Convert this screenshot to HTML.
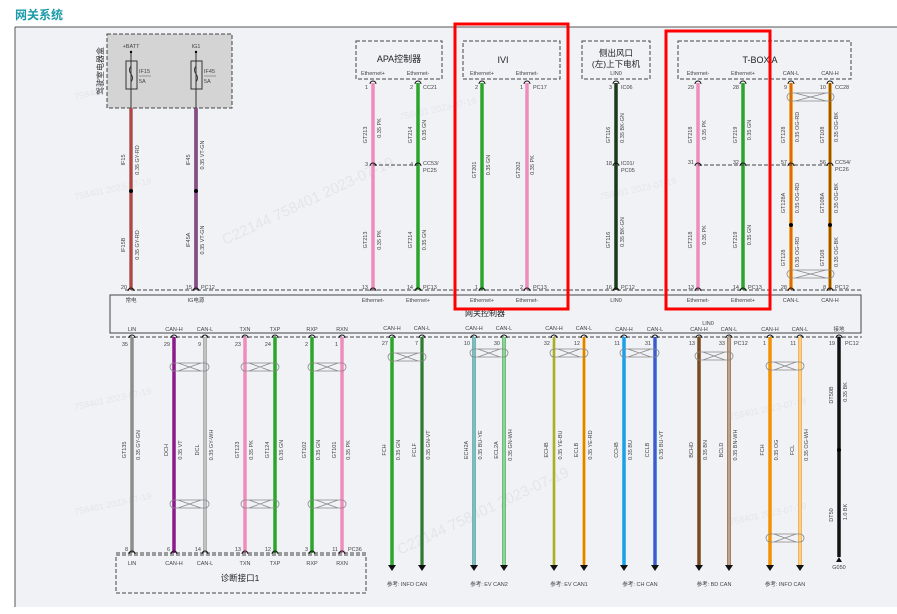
<!DOCTYPE html>
<html><head><meta charset="utf-8"><style>
html,body{margin:0;padding:0;background:#fff;}
svg{display:block;font-family:"Liberation Sans","Noto Sans CJK SC",sans-serif;}
.t{font-size:6px;fill:#333;}
.s{font-size:5.5px;fill:#444;}
.r{font-size:5.5px;fill:#444;text-anchor:middle;}
</style></head><body>
<svg width="897" height="614" viewBox="0 0 897 614" xmlns="http://www.w3.org/2000/svg">
<rect x="0" y="0" width="897" height="614" fill="#fff"/>
<rect x="15" y="27" width="882" height="580" fill="#f1f2f6"/>
<line x1="15" y1="27" x2="897" y2="27" stroke="#555" stroke-width="1"/>
<line x1="15" y1="27" x2="15" y2="607" stroke="#555" stroke-width="1"/>
<text x="15" y="19" font-size="12" font-weight="bold" fill="#1a9aa8">网关系统</text>

<!-- watermarks -->
<g fill="#e3e5ea" font-size="9">
<text transform="translate(75,100) rotate(-12)">758401 2023-07-19</text>
<text transform="translate(75,200) rotate(-12)">758401 2023-07-19</text>
<text transform="translate(225,245) rotate(-25)" font-size="15">C22144 758401 2023-07-19</text>
<text transform="translate(400,120) rotate(-12)">758401 2023-07-19</text>
<text transform="translate(600,200) rotate(-12)">758401 2023-07-19</text>
<text transform="translate(75,410) rotate(-12)">758401 2023-07-19</text>
<text transform="translate(75,515) rotate(-12)">758401 2023-07-19</text>
<text transform="translate(400,555) rotate(-25)" font-size="15">C22144 758401 2023-07-19</text>
<text transform="translate(730,420) rotate(-12)">758401 2023-07-19</text>
<text transform="translate(730,525) rotate(-12)">758401 2023-07-19</text>
</g>

<!-- fuse box -->
<rect x="107" y="34" width="125" height="74" fill="#d4d4d4" stroke="#444" stroke-dasharray="4,2"/>
<text transform="translate(103,71) rotate(-90)" font-size="8" fill="#333" text-anchor="middle">驾驶室电器盒</text>
<text x="131" y="48" class="s" text-anchor="middle">+BATT</text>
<text x="196" y="48" class="s" text-anchor="middle">IG1</text>
<line x1="131" y1="52" x2="131" y2="108" stroke="#333"/>
<line x1="196" y1="52" x2="196" y2="108" stroke="#333"/>
<circle cx="131" cy="52" r="1.2"/><circle cx="196" cy="52" r="1.2"/>
<rect x="126" y="61" width="11" height="28" fill="none" stroke="#333"/>
<rect x="191" y="61" width="11" height="28" fill="none" stroke="#333"/>
<path d="M131 66 q-3 4 0 8 q3 4 0 8" fill="none" stroke="#333"/>
<path d="M196 66 q-3 4 0 8 q3 4 0 8" fill="none" stroke="#333"/>
<text x="139" y="73" class="s">IF15</text><text x="139" y="83" class="s">5A</text>
<line x1="139" y1="76" x2="151" y2="76" stroke="#555" stroke-width=".5"/>
<text x="204" y="73" class="s">IF45</text><text x="204" y="83" class="s">5A</text>
<line x1="204" y1="76" x2="216" y2="76" stroke="#555" stroke-width=".5"/>

<!-- upper wires -->
<g stroke-width="3.5">
<line x1="131" y1="108" x2="131" y2="290" stroke="#a85a5a"/>
<line x1="196" y1="108" x2="196" y2="290" stroke="#8b1f8f"/>
<line x1="373" y1="83" x2="373" y2="290" stroke="#f08cbc"/>
<line x1="418" y1="83" x2="418" y2="290" stroke="#2ba52b"/>
<line x1="482" y1="83" x2="482" y2="290" stroke="#2ba52b"/>
<line x1="527" y1="83" x2="527" y2="290" stroke="#f08cbc"/>
<line x1="616" y1="83" x2="616" y2="290" stroke="#1b3a1b"/>
<line x1="698" y1="83" x2="698" y2="290" stroke="#f08cbc"/>
<line x1="743" y1="83" x2="743" y2="290" stroke="#2ba52b"/>
<line x1="791" y1="83" x2="791" y2="290" stroke="#f39200"/>
<line x1="830" y1="83" x2="830" y2="290" stroke="#f39200"/>
</g>
<g stroke-width="1">
<line x1="131" y1="108" x2="131" y2="290" stroke="#c03030"/>
<line x1="196" y1="108" x2="196" y2="290" stroke="#5a9a40"/>
<line x1="791" y1="83" x2="791" y2="290" stroke="#d04010"/>
<line x1="830" y1="83" x2="830" y2="290" stroke="#222"/>
</g>
<circle cx="131" cy="191" r="2"/><circle cx="196" cy="191" r="2"/>
<circle cx="791" cy="225" r="2"/><circle cx="830" cy="225" r="2"/>
<g fill="none" stroke="#888" stroke-width=".8">
<path d="M791 93 h39 a4 4 0 0 1 0 8 h-39 a4 4 0 0 1 0 -8 M795 93 L826 101 M795 101 L826 93"/>
<path d="M791 270 h39 a4 4 0 0 1 0 8 h-39 a4 4 0 0 1 0 -8 M795 270 L826 278 M795 278 L826 270"/>
</g>

<!-- upper connector boxes -->
<g fill="none" stroke="#444" stroke-dasharray="4,2">
<rect x="356" y="41" width="86" height="38"/>
<rect x="463" y="41" width="97" height="38"/>
<rect x="582" y="41" width="68" height="38"/>
<rect x="678" y="41" width="173" height="38"/>
<line x1="373" y1="165" x2="418" y2="165"/>
<line x1="698" y1="165" x2="830" y2="165"/>
<line x1="125" y1="290" x2="862" y2="290"/>
</g>
<text x="399" y="62" font-size="9" fill="#222" text-anchor="middle">APA控制器</text>
<text x="503" y="63" font-size="9" fill="#222" text-anchor="middle">IVI</text>
<text x="616" y="56" font-size="8.5" fill="#222" text-anchor="middle">侧出风口</text>
<text x="616" y="67" font-size="8.5" fill="#222" text-anchor="middle">(左)上下电机</text>
<text x="760" y="63" font-size="9" fill="#222" text-anchor="middle">T-BOX A</text>
<g class="r">
<text x="373" y="75">Ethernet+</text><text x="418" y="75">Ethernet-</text>
<text x="482" y="75">Ethernet+</text><text x="527" y="75">Ethernet-</text>
<text x="616" y="75">LIN0</text>
<text x="698" y="75">Ethernet-</text><text x="743" y="75">Ethernet+</text>
<text x="791" y="75">CAN-L</text><text x="830" y="75">CAN-H</text>
</g>
<g class="s">
<text x="368" y="89" text-anchor="end">1</text><text x="413" y="89" text-anchor="end">2</text><text x="423" y="89">CC21</text>
<text x="368" y="166" text-anchor="end">3</text><text x="413" y="166" text-anchor="end">4</text><text x="423" y="165">CC53/</text><text x="423" y="172">PC25</text>
<text x="368" y="289" text-anchor="end">13</text><text x="413" y="289" text-anchor="end">14</text><text x="423" y="289">PC13</text>
<text x="478" y="89" text-anchor="end">2</text><text x="523" y="89" text-anchor="end">1</text><text x="533" y="89">PC17</text>
<text x="478" y="289" text-anchor="end">1</text><text x="523" y="289" text-anchor="end">2</text><text x="533" y="289">PC13</text>
<text x="612" y="89" text-anchor="end">3</text><text x="621" y="89">IC06</text>
<text x="612" y="165" text-anchor="end">18</text><text x="621" y="165">IC01/</text><text x="621" y="172">PC05</text>
<text x="612" y="289" text-anchor="end">16</text><text x="621" y="289">PC12</text>
<text x="694" y="89" text-anchor="end">29</text><text x="739" y="89" text-anchor="end">28</text>
<text x="787" y="89" text-anchor="end">9</text><text x="826" y="89" text-anchor="end">10</text><text x="835" y="89">CC28</text>
<text x="694" y="164" text-anchor="end">31</text><text x="739" y="164" text-anchor="end">32</text>
<text x="787" y="164" text-anchor="end">57</text><text x="826" y="164" text-anchor="end">56</text><text x="835" y="164">CC54/</text><text x="835" y="171">PC26</text>
<text x="694" y="289" text-anchor="end">13</text><text x="739" y="289" text-anchor="end">14</text><text x="748" y="289">PC13</text>
<text x="787" y="289" text-anchor="end">28</text><text x="826" y="289" text-anchor="end">8</text><text x="835" y="289">PC12</text>
<text x="127" y="289" text-anchor="end">20</text><text x="192" y="289" text-anchor="end">15</text><text x="201" y="289">PC12</text>
</g>
<g class="r">
<text transform="translate(125,160) rotate(-90)">IF15</text><text transform="translate(139,160) rotate(-90)">0.35 GY-RD</text>
<text transform="translate(125,245) rotate(-90)">IF15B</text><text transform="translate(139,245) rotate(-90)">0.35 GY-RD</text>
<text transform="translate(190,160) rotate(-90)">IF45</text><text transform="translate(204,155) rotate(-90)">0.35 VT-GN</text>
<text transform="translate(190,240) rotate(-90)">IF45A</text><text transform="translate(204,240) rotate(-90)">0.35 VT-GN</text>
<text transform="translate(367,135) rotate(-90)">GT213</text><text transform="translate(381,128) rotate(-90)">0.35 PK</text>
<text transform="translate(412,135) rotate(-90)">GT214</text><text transform="translate(426,130) rotate(-90)">0.35 GN</text>
<text transform="translate(367,240) rotate(-90)">GT213</text><text transform="translate(381,240) rotate(-90)">0.35 PK</text>
<text transform="translate(412,240) rotate(-90)">GT214</text><text transform="translate(426,240) rotate(-90)">0.35 GN</text>
<text transform="translate(476,170) rotate(-90)">GT201</text><text transform="translate(490,165) rotate(-90)">0.35 GN</text>
<text transform="translate(520,170) rotate(-90)">GT202</text><text transform="translate(534,165) rotate(-90)">0.35 PK</text>
<text transform="translate(610,135) rotate(-90)">GT116</text><text transform="translate(624,128) rotate(-90)">0.35 BK-GN</text>
<text transform="translate(610,240) rotate(-90)">GT116</text><text transform="translate(624,232) rotate(-90)">0.35 BK-GN</text>
<text transform="translate(692,135) rotate(-90)">GT218</text><text transform="translate(706,130) rotate(-90)">0.35 PK</text>
<text transform="translate(737,135) rotate(-90)">GT219</text><text transform="translate(751,130) rotate(-90)">0.35 GN</text>
<text transform="translate(692,240) rotate(-90)">GT218</text><text transform="translate(706,235) rotate(-90)">0.35 PK</text>
<text transform="translate(737,240) rotate(-90)">GT219</text><text transform="translate(751,235) rotate(-90)">0.35 GN</text>
<text transform="translate(785,135) rotate(-90)">GT128</text><text transform="translate(799,127) rotate(-90)">0.35 OG-RD</text>
<text transform="translate(824,135) rotate(-90)">GT108</text><text transform="translate(838,127) rotate(-90)">0.35 OG-BK</text>
<text transform="translate(785,203) rotate(-90)">GT128A</text><text transform="translate(799,198) rotate(-90)">0.35 OG-RD</text>
<text transform="translate(824,203) rotate(-90)">GT108A</text><text transform="translate(838,198) rotate(-90)">0.35 OG-BK</text>
<text transform="translate(785,258) rotate(-90)">GT128</text><text transform="translate(799,252) rotate(-90)">0.35 OG-RD</text>
<text transform="translate(824,258) rotate(-90)">GT108</text><text transform="translate(838,252) rotate(-90)">0.35 OG-BK</text>
</g>

<!-- gateway box -->
<rect x="110" y="295" width="751" height="38" fill="#f1f2f6" stroke="#444"/>
<text x="485" y="316" font-size="8" fill="#222" text-anchor="middle">网关控制器</text>
<g class="r">
<text x="131" y="302">常电</text><text x="196" y="302">IG电源</text>
<text x="373" y="302">Ethernet-</text><text x="418" y="302">Ethernet+</text>
<text x="482" y="302">Ethernet+</text><text x="527" y="302">Ethernet-</text>
<text x="616" y="302">LIN0</text>
<text x="698" y="302">Ethernet-</text><text x="743" y="302">Ethernet+</text>
<text x="791" y="302">CAN-L</text><text x="830" y="302">CAN-H</text>
<text x="132" y="331">LIN</text><text x="174" y="331">CAN-H</text><text x="205" y="331">CAN-L</text>
<text x="245" y="331">TXN</text><text x="275" y="331">TXP</text><text x="312" y="331">RXP</text><text x="342" y="331">RXN</text>
<text x="392" y="330">CAN-H</text><text x="422" y="330">CAN-L</text>
<text x="474" y="330">CAN-H</text><text x="504" y="330">CAN-L</text>
<text x="554" y="330">CAN-H</text><text x="584" y="330">CAN-L</text>
<text x="624" y="331">CAN-H</text><text x="655" y="331">CAN-L</text>
<text x="708" y="325">LIN0</text>
<text x="699" y="331">CAN-H</text><text x="729" y="331">CAN-L</text>
<text x="770" y="331">CAN-H</text><text x="800" y="331">CAN-L</text>
<text x="839" y="331">接地</text>
</g>
<line x1="110" y1="337" x2="862" y2="337" stroke="#444" stroke-dasharray="4,2"/>

<!-- lower wires -->
<g stroke-width="3.5">
<line x1="132" y1="337" x2="132" y2="553" stroke="#8c8c8c"/>
<line x1="174" y1="337" x2="174" y2="553" stroke="#8b1a8b"/>
<line x1="205" y1="337" x2="205" y2="553" stroke="#9a9a9a"/>
<line x1="245" y1="337" x2="245" y2="553" stroke="#f08cbc"/>
<line x1="275" y1="337" x2="275" y2="553" stroke="#2ba52b"/>
<line x1="312" y1="337" x2="312" y2="553" stroke="#2ba52b"/>
<line x1="342" y1="337" x2="342" y2="553" stroke="#f08cbc"/>
<line x1="392" y1="337" x2="392" y2="565" stroke="#2ba52b"/>
<line x1="422" y1="337" x2="422" y2="565" stroke="#2ba52b"/>
<line x1="474" y1="337" x2="474" y2="565" stroke="#3aa0e0"/>
<line x1="504" y1="337" x2="504" y2="565" stroke="#3fb04f"/>
<line x1="554" y1="337" x2="554" y2="565" stroke="#f0e020"/>
<line x1="584" y1="337" x2="584" y2="565" stroke="#f0d020"/>
<line x1="624" y1="337" x2="624" y2="565" stroke="#1aa0ea"/>
<line x1="655" y1="337" x2="655" y2="565" stroke="#1a70e0"/>
<line x1="699" y1="337" x2="699" y2="565" stroke="#7a4a20"/>
<line x1="729" y1="337" x2="729" y2="565" stroke="#8a5a30"/>
<line x1="770" y1="337" x2="770" y2="565" stroke="#f39200"/>
<line x1="800" y1="337" x2="800" y2="565" stroke="#f3a020"/>
<line x1="839" y1="337" x2="839" y2="557" stroke="#111"/>
</g>
<g stroke-width="1">
<line x1="205" y1="337" x2="205" y2="553" stroke="#e8e8e8"/>
<line x1="422" y1="337" x2="422" y2="565" stroke="#6a2a6a"/>
<line x1="474" y1="337" x2="474" y2="565" stroke="#e0e040"/>
<line x1="504" y1="337" x2="504" y2="565" stroke="#eeeeee"/>
<line x1="554" y1="337" x2="554" y2="565" stroke="#3a70e0"/>
<line x1="584" y1="337" x2="584" y2="565" stroke="#e02020"/>
<line x1="655" y1="337" x2="655" y2="565" stroke="#7a3ab0"/>
<line x1="729" y1="337" x2="729" y2="565" stroke="#eeeeee"/>
<line x1="800" y1="337" x2="800" y2="565" stroke="#ffffff"/>
</g>
<circle cx="839" cy="450" r="2"/>
<g fill="#111">
<path d="M388 565 h8 l-4 6z"/><path d="M418 565 h8 l-4 6z"/>
<path d="M470 565 h8 l-4 6z"/><path d="M500 565 h8 l-4 6z"/>
<path d="M550 565 h8 l-4 6z"/><path d="M580 565 h8 l-4 6z"/>
<path d="M620 565 h8 l-4 6z"/><path d="M651 565 h8 l-4 6z"/>
<path d="M695 565 h8 l-4 6z"/><path d="M725 565 h8 l-4 6z"/>
<path d="M766 565 h8 l-4 6z"/><path d="M796 565 h8 l-4 6z"/>
<path d="M836 562 h6 l-3 -5z"/>
</g>
<text x="839" y="569" class="r">G050</text>
<g fill="none" stroke="#888" stroke-width=".8">
<path d="M174 363 h31 a4 4 0 0 1 0 8 h-31 a4 4 0 0 1 0 -8 M178 363 L201 371 M178 371 L201 363"/>
<path d="M245 363 h30 a4 4 0 0 1 0 8 h-30 a4 4 0 0 1 0 -8 M249 363 L271 371 M249 371 L271 363"/>
<path d="M312 363 h30 a4 4 0 0 1 0 8 h-30 a4 4 0 0 1 0 -8 M316 363 L338 371 M316 371 L338 363"/>
<path d="M174 500 h31 a4 4 0 0 1 0 8 h-31 a4 4 0 0 1 0 -8 M178 500 L201 508 M178 508 L201 500"/>
<path d="M245 500 h30 a4 4 0 0 1 0 8 h-30 a4 4 0 0 1 0 -8 M249 500 L271 508 M249 508 L271 500"/>
<path d="M312 500 h30 a4 4 0 0 1 0 8 h-30 a4 4 0 0 1 0 -8 M316 500 L338 508 M316 508 L338 500"/>
<path d="M392 353 h30 a4 4 0 0 1 0 8 h-30 a4 4 0 0 1 0 -8 M396 353 L418 361 M396 361 L418 353"/>
<path d="M474 349 h30 a4 4 0 0 1 0 8 h-30 a4 4 0 0 1 0 -8 M478 349 L500 357 M478 357 L500 349"/>
<path d="M554 349 h30 a4 4 0 0 1 0 8 h-30 a4 4 0 0 1 0 -8 M558 349 L580 357 M558 357 L580 349"/>
<path d="M624 349 h31 a4 4 0 0 1 0 8 h-31 a4 4 0 0 1 0 -8 M628 349 L651 357 M628 357 L651 349"/>
<path d="M699 352 h30 a4 4 0 0 1 0 8 h-30 a4 4 0 0 1 0 -8 M703 352 L725 360 M703 360 L725 352"/>
<path d="M770 362 h30 a4 4 0 0 1 0 8 h-30 a4 4 0 0 1 0 -8 M774 362 L796 370 M774 370 L796 362"/>
<path d="M770 534 h30 a4 4 0 0 1 0 8 h-30 a4 4 0 0 1 0 -8 M774 534 L796 542 M774 542 L796 534"/>
</g>
<g class="s">
<text x="128" y="346" text-anchor="end">35</text><text x="170" y="346" text-anchor="end">29</text><text x="201" y="346" text-anchor="end">9</text>
<text x="241" y="346" text-anchor="end">23</text><text x="271" y="346" text-anchor="end">24</text><text x="308" y="346" text-anchor="end">2</text><text x="338" y="346" text-anchor="end">1</text>
<text x="388" y="345" text-anchor="end">27</text><text x="418" y="345" text-anchor="end">7</text>
<text x="470" y="345" text-anchor="end">10</text><text x="500" y="345" text-anchor="end">30</text>
<text x="550" y="345" text-anchor="end">32</text><text x="580" y="345" text-anchor="end">12</text>
<text x="620" y="345" text-anchor="end">11</text><text x="651" y="345" text-anchor="end">31</text>
<text x="695" y="345" text-anchor="end">13</text><text x="725" y="345" text-anchor="end">33</text><text x="734" y="345">PC12</text>
<text x="766" y="345" text-anchor="end">1</text><text x="796" y="345" text-anchor="end">11</text>
<text x="835" y="345" text-anchor="end">19</text><text x="845" y="345">PC12</text>
<text x="128" y="551" text-anchor="end">8</text><text x="170" y="551" text-anchor="end">6</text><text x="201" y="551" text-anchor="end">14</text>
<text x="241" y="551" text-anchor="end">13</text><text x="271" y="551" text-anchor="end">12</text><text x="308" y="551" text-anchor="end">3</text><text x="338" y="551" text-anchor="end">11</text><text x="348" y="551">PC36</text>
</g>
<g class="r">
<text transform="translate(126,450) rotate(-90)">GT135</text><text transform="translate(140,445) rotate(-90)">0.35 GY-GN</text>
<text transform="translate(168,450) rotate(-90)">DCH</text><text transform="translate(182,450) rotate(-90)">0.35 VT</text>
<text transform="translate(199,450) rotate(-90)">DCL</text><text transform="translate(213,445) rotate(-90)">0.35 GY-WH</text>
<text transform="translate(239,450) rotate(-90)">GT123</text><text transform="translate(253,450) rotate(-90)">0.35 PK</text>
<text transform="translate(269,450) rotate(-90)">GT124</text><text transform="translate(283,450) rotate(-90)">0.35 GN</text>
<text transform="translate(306,450) rotate(-90)">GT102</text><text transform="translate(320,450) rotate(-90)">0.35 GN</text>
<text transform="translate(336,450) rotate(-90)">GT101</text><text transform="translate(350,450) rotate(-90)">0.35 PK</text>
<text transform="translate(386,450) rotate(-90)">FCH</text><text transform="translate(400,450) rotate(-90)">0.35 GN</text>
<text transform="translate(416,450) rotate(-90)">FCLF</text><text transform="translate(430,445) rotate(-90)">0.35 GN-VT</text>
<text transform="translate(468,450) rotate(-90)">ECH2A</text><text transform="translate(482,445) rotate(-90)">0.35 BU-YE</text>
<text transform="translate(498,450) rotate(-90)">ECL2A</text><text transform="translate(512,445) rotate(-90)">0.35 GN-WH</text>
<text transform="translate(548,450) rotate(-90)">ECHB</text><text transform="translate(562,445) rotate(-90)">0.35 YE-BU</text>
<text transform="translate(578,450) rotate(-90)">ECLB</text><text transform="translate(592,445) rotate(-90)">0.35 YE-RD</text>
<text transform="translate(618,450) rotate(-90)">CCHB</text><text transform="translate(632,450) rotate(-90)">0.35 BU</text>
<text transform="translate(649,450) rotate(-90)">CCLB</text><text transform="translate(663,445) rotate(-90)">0.35 BU-VT</text>
<text transform="translate(693,450) rotate(-90)">BCHD</text><text transform="translate(707,450) rotate(-90)">0.35 BN</text>
<text transform="translate(723,450) rotate(-90)">BCLD</text><text transform="translate(737,445) rotate(-90)">0.35 BN-WH</text>
<text transform="translate(764,450) rotate(-90)">FCH</text><text transform="translate(778,450) rotate(-90)">0.35 OG</text>
<text transform="translate(794,450) rotate(-90)">FCL</text><text transform="translate(808,445) rotate(-90)">0.35 OG-WH</text>
<text transform="translate(833,395) rotate(-90)">DT50B</text><text transform="translate(847,392) rotate(-90)">0.35 BK</text>
<text transform="translate(833,515) rotate(-90)">DT50</text><text transform="translate(847,512) rotate(-90)">1.0 BK</text>
</g>
<line x1="116" y1="553" x2="366" y2="553" stroke="#444" stroke-dasharray="4,2"/>
<rect x="116" y="555" width="250" height="38" fill="none" stroke="#444" stroke-dasharray="4,2"/>
<g class="r">
<text x="132" y="565">LIN</text><text x="174" y="565">CAN-H</text><text x="205" y="565">CAN-L</text>
<text x="245" y="565">TXN</text><text x="275" y="565">TXP</text><text x="312" y="565">RXP</text><text x="342" y="565">RXN</text>
</g>
<text x="240" y="581" font-size="8.5" fill="#222" text-anchor="middle">诊断接口1</text>
<g class="r">
<text x="407" y="586">参考: INFO CAN</text>
<text x="489" y="586">参考: EV CAN2</text>
<text x="569" y="586">参考: EV CAN1</text>
<text x="640" y="586">参考: CH CAN</text>
<text x="714" y="586">参考: BD CAN</text>
<text x="785" y="586">参考: INFO CAN</text>
</g>

<g fill="none" stroke="#111" stroke-width="1">
<path d="M370 84 a3 3 0 0 1 6 0 M415 84 a3 3 0 0 1 6 0 M479 84 a3 3 0 0 1 6 0 M524 84 a3 3 0 0 1 6 0 M613 84 a3 3 0 0 1 6 0 M695 84 a3 3 0 0 1 6 0 M740 84 a3 3 0 0 1 6 0 M788 84 a3 3 0 0 1 6 0 M827 84 a3 3 0 0 1 6 0"/>
<path d="M370 166 a3 3 0 0 1 6 0 M415 166 a3 3 0 0 1 6 0 M613 166 a3 3 0 0 1 6 0 M695 166 a3 3 0 0 1 6 0 M740 166 a3 3 0 0 1 6 0 M788 166 a3 3 0 0 1 6 0 M827 166 a3 3 0 0 1 6 0"/>
<path d="M128 291 a3 3 0 0 1 6 0 M193 291 a3 3 0 0 1 6 0 M370 291 a3 3 0 0 1 6 0 M415 291 a3 3 0 0 1 6 0 M479 291 a3 3 0 0 1 6 0 M524 291 a3 3 0 0 1 6 0 M613 291 a3 3 0 0 1 6 0 M695 291 a3 3 0 0 1 6 0 M740 291 a3 3 0 0 1 6 0 M788 291 a3 3 0 0 1 6 0 M827 291 a3 3 0 0 1 6 0"/>
<path d="M129 338 a3 3 0 0 1 6 0 M171 338 a3 3 0 0 1 6 0 M202 338 a3 3 0 0 1 6 0 M242 338 a3 3 0 0 1 6 0 M272 338 a3 3 0 0 1 6 0 M309 338 a3 3 0 0 1 6 0 M339 338 a3 3 0 0 1 6 0 M389 338 a3 3 0 0 1 6 0 M419 338 a3 3 0 0 1 6 0 M471 338 a3 3 0 0 1 6 0 M501 338 a3 3 0 0 1 6 0 M551 338 a3 3 0 0 1 6 0 M581 338 a3 3 0 0 1 6 0 M621 338 a3 3 0 0 1 6 0 M652 338 a3 3 0 0 1 6 0 M696 338 a3 3 0 0 1 6 0 M726 338 a3 3 0 0 1 6 0 M767 338 a3 3 0 0 1 6 0 M797 338 a3 3 0 0 1 6 0 M836 338 a3 3 0 0 1 6 0"/>
<path d="M129 554 a3 3 0 0 1 6 0 M171 554 a3 3 0 0 1 6 0 M202 554 a3 3 0 0 1 6 0 M242 554 a3 3 0 0 1 6 0 M272 554 a3 3 0 0 1 6 0 M309 554 a3 3 0 0 1 6 0 M339 554 a3 3 0 0 1 6 0"/>
</g>

<rect x="455" y="24" width="113" height="285" fill="none" stroke="#f00" stroke-width="3"/>
<rect x="666" y="31" width="104" height="278" fill="none" stroke="#f00" stroke-width="3"/>
</svg>
</body></html>
